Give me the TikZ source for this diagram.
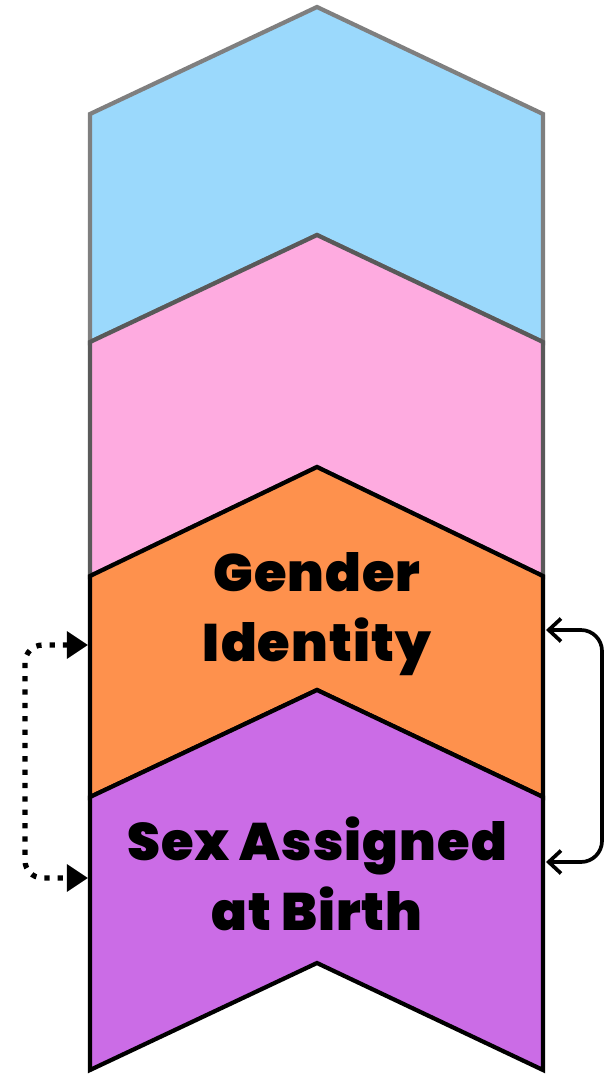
\documentclass[tikz,border=0pt]{standalone}
\usepackage{fontspec}
\setmainfont{Poppins}[BoldFont={Poppins Black}, LetterSpace=2]
\usetikzlibrary{arrows.meta}
\definecolor{skyblue}{HTML}{9BD9FC}
\definecolor{candypink}{HTML}{FEABE0}
\definecolor{tangerine}{HTML}{FE914D}
\definecolor{orchid}{HTML}{CB6CE6}
\definecolor{edgegray}{HTML}{7F7F7F}

\begin{document}
\begin{tikzpicture}[x=0.02cm, y=-0.02cm, >=Stealth,
    chev/.style={line width=2.4pt, line join=miter},
    label/.style={align=center, font=\fontsize{30}{40}\selectfont\bfseries}]
  \useasboundingbox (0,0) rectangle (605,1074);
  % stacked chevrons, back to front
  \draw[chev, draw=edgegray, fill=skyblue] (90,114) -- (317,7) -- (543,114) -- (543,342) -- (317,235) -- (90,342) -- cycle;
  \draw[chev, draw=edgegray!70!black, fill=candypink] (90,342) -- (317,235) -- (543,342) -- (543,576) -- (317,467) -- (90,576) -- cycle;
  \draw[chev, draw=black, fill=tangerine] (90,576) -- (317,467) -- (543,576) -- (543,797) -- (317,690) -- (90,797) -- cycle;
  \draw[chev, draw=black, fill=orchid] (90,797) -- (317,690) -- (543,797) -- (543,1070) -- (317,963) -- (90,1070) -- cycle;
  \node[label] (gender) at (317,614) {Gender\\Identity};
  \node[label] (sab) at (317,874) {Sex Assigned\\at Birth};
  % anchor points on the chevron sides
  \coordinate (gender-w) at (88,645);
  \coordinate (sab-w) at (88,878);
  \coordinate (gender-e) at (546,630);
  \coordinate (sab-e) at (546,862);
  \draw[{Triangle[length=12pt,width=15pt]}-{Triangle[length=12pt,width=15pt]}, line width=3pt, dash pattern=on 3pt off 4.6pt, rounded corners=10pt]
    (gender-w) -- (25,645) -- (25,878) -- (sab-w);
  \draw[{Straight Barb[length=7pt,width=13pt]}-{Straight Barb[length=7pt,width=13pt]}, line width=2.1pt, rounded corners=12pt]
    (gender-e) -- (602,630) -- (602,862) -- (sab-e);
\end{tikzpicture}
\end{document}
